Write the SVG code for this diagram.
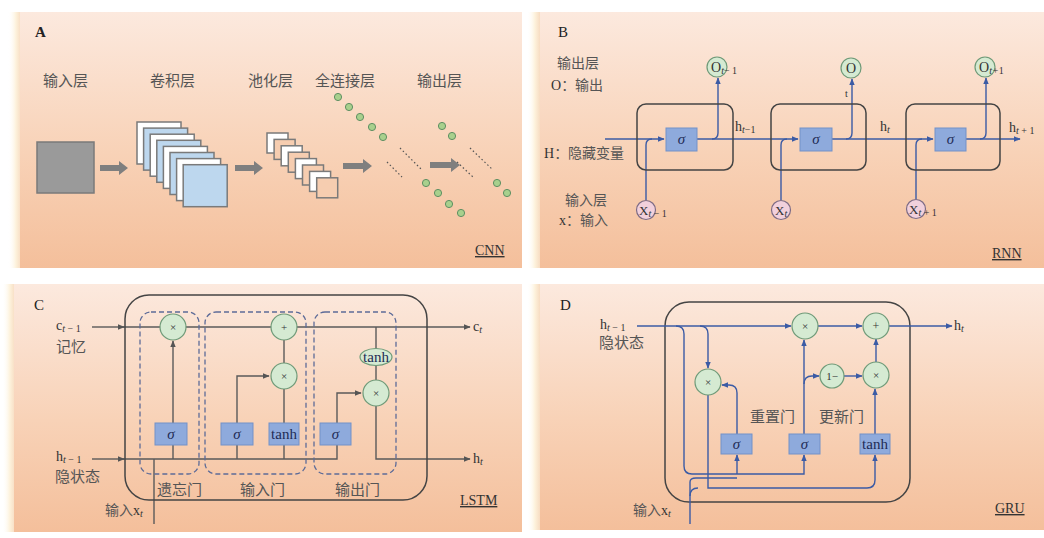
<svg xmlns="http://www.w3.org/2000/svg" width="1044" height="538" viewBox="0 0 1044 538">
  <defs>
    <linearGradient id="panelBg" x1="0" y1="0" x2="0" y2="1">
      <stop offset="0" stop-color="#fce9de"/>
      <stop offset="0.55" stop-color="#f8d2b7"/>
      <stop offset="1" stop-color="#f4bf9b"/>
    </linearGradient>
    <linearGradient id="edgeGlow" x1="0" y1="0" x2="1" y2="0">
      <stop offset="0" stop-color="#ffffff" stop-opacity="0"/>
      <stop offset="0.6" stop-color="#fdf2dc"/>
      <stop offset="1" stop-color="#f7dcc2"/>
    </linearGradient>
    <marker id="ab" viewBox="0 0 10 10" refX="9" refY="5" markerWidth="7" markerHeight="7" markerUnits="userSpaceOnUse" orient="auto">
      <path d="M0,1 L10,5 L0,9 z" fill="#3b5ba5"/>
    </marker>
    <marker id="ag" viewBox="0 0 10 10" refX="9" refY="5" markerWidth="7" markerHeight="7" markerUnits="userSpaceOnUse" orient="auto">
      <path d="M0,1 L10,5 L0,9 z" fill="#555"/>
    </marker>
    <style>
      .cjk { font-family: "Noto Sans CJK SC", sans-serif; fill: #555; }
      .lat { font-family: "Liberation Serif", "Noto Sans CJK SC", serif; fill: #333; }
      .tag { font-family: "Liberation Serif", serif; font-size: 15px; fill: #222; }
      .name { font-family: "Liberation Serif", serif; font-size: 14px; fill: #333; text-decoration: underline; }
      .it { font-style: italic; }
      .cell { fill: none; stroke: #444; stroke-width: 1.5; }
      .box { fill: #8eaadc; stroke: #7391c8; stroke-width: 1; }
      .op { fill: #d5ead2; stroke: #6f9a78; stroke-width: 1.2; }
      .inC { fill: #f1d0dc; stroke: #7d6b85; stroke-width: 1.2; }
      .dot { fill: #a8d08d; stroke: #5f8f62; stroke-width: 1; }
      .dots { stroke: #555; stroke-width: 1.2; stroke-dasharray: 1.5 2.5; }
      .bl { fill: none; stroke: #3b5ba5; stroke-width: 1.4; }
      .gl { fill: none; stroke: #5a5a5a; stroke-width: 1.4; }
      .gate { fill: none; stroke: #5d6b98; stroke-width: 1.3; stroke-dasharray: 5 3; }
      .fat { fill: #7f7f7f; }
      .frame { stroke: #7a7a7a; stroke-width: 1.5; }
      .sig { font-family: "Liberation Serif", serif; font-style: italic; font-size: 15px; fill: #1e2b55; }
      .tanh { font-family: "Liberation Serif", serif; font-size: 15px; fill: #1e2b55; }
    </style>
  </defs>

  <rect width="1044" height="538" fill="#ffffff"/>

  <!-- panel backgrounds -->
  <g id="panels">
    <rect x="8" y="12" width="13" height="256" fill="url(#edgeGlow)"/>
    <rect x="20" y="12" width="502" height="256" fill="url(#panelBg)"/>
    <rect x="527" y="12" width="13" height="256" fill="url(#edgeGlow)"/>
    <rect x="540" y="12" width="504" height="256" fill="url(#panelBg)"/>
    <rect x="2" y="284" width="13" height="248" fill="url(#edgeGlow)"/>
    <rect x="14" y="284" width="508" height="248" fill="url(#panelBg)"/>
    <rect x="527" y="284" width="13" height="246" fill="url(#edgeGlow)"/>
    <rect x="540" y="284" width="504" height="246" fill="url(#panelBg)"/>
  </g>

  <!-- ===== A: CNN ===== -->
  <g id="panel-a">
    <text class="tag" x="35" y="37" font-weight="bold" font-size="14">A</text>
    <text class="cjk" x="43" y="86" font-size="15">输入层</text>
    <text class="cjk" x="150" y="86" font-size="15">卷积层</text>
    <text class="cjk" x="248" y="86" font-size="15">池化层</text>
    <text class="cjk" x="315" y="86" font-size="15">全连接层</text>
    <text class="cjk" x="417" y="86" font-size="15">输出层</text>
    <text class="name" x="475" y="255">CNN</text>
  </g>

  <g id="cnn-input">
    <rect x="37" y="142" width="57" height="51" fill="#9a9a9a" stroke="#7a7a7a" stroke-width="1.5"/>
  </g>

  <g id="cnn-conv">
    <rect class="frame" x="137" y="122" width="44" height="42" fill="#ffffff"/>
    <rect class="frame" x="143.6" y="128.1" width="44" height="42" fill="#bdd7ee"/>
    <rect class="frame" x="150.2" y="134.2" width="44" height="42" fill="#ffffff"/>
    <rect class="frame" x="156.8" y="140.3" width="44" height="42" fill="#bdd7ee"/>
    <rect class="frame" x="163.4" y="146.4" width="44" height="42" fill="#ffffff"/>
    <rect class="frame" x="170" y="152.5" width="44" height="42" fill="#bdd7ee"/>
    <rect class="frame" x="176.6" y="158.6" width="44" height="42" fill="#ffffff"/>
    <rect class="frame" x="183.2" y="164.7" width="44" height="42" fill="#bdd7ee"/>
  </g>

  <g id="cnn-pool">
    <rect class="frame" x="267" y="133" width="21" height="20" fill="#ffffff"/>
    <rect class="frame" x="274.1" y="139.4" width="21" height="20" fill="#f6cdb0"/>
    <rect class="frame" x="281.2" y="145.8" width="21" height="20" fill="#ffffff"/>
    <rect class="frame" x="288.3" y="152.2" width="21" height="20" fill="#f6cdb0"/>
    <rect class="frame" x="295.4" y="158.6" width="21" height="20" fill="#ffffff"/>
    <rect class="frame" x="302.5" y="165" width="21" height="20" fill="#f6cdb0"/>
    <rect class="frame" x="309.6" y="171.4" width="21" height="20" fill="#ffffff"/>
    <rect class="frame" x="316.7" y="177.8" width="21" height="20" fill="#f6cdb0"/>
  </g>

  <g id="cnn-fc">
    <circle class="dot" cx="338" cy="97" r="3.6"/>
    <circle class="dot" cx="349" cy="107" r="3.6"/>
    <circle class="dot" cx="360" cy="117" r="3.6"/>
    <circle class="dot" cx="372" cy="127" r="3.6"/>
    <circle class="dot" cx="383" cy="137" r="3.6"/>
    <line class="dots" x1="387" y1="162" x2="402" y2="177"/>
    <line class="dots" x1="400" y1="148" x2="422" y2="170"/>
    <circle class="dot" cx="426" cy="183" r="3.6"/>
    <circle class="dot" cx="438" cy="193" r="3.6"/>
    <circle class="dot" cx="449" cy="204" r="3.6"/>
    <circle class="dot" cx="461" cy="213" r="3.6"/>
  </g>

  <g id="cnn-out">
    <circle class="dot" cx="442" cy="126" r="3.6"/>
    <circle class="dot" cx="452" cy="136" r="3.6"/>
    <line class="dots" x1="470" y1="148" x2="493" y2="170"/>
    <line class="dots" x1="457" y1="162" x2="473" y2="177"/>
    <circle class="dot" cx="497" cy="183" r="3.6"/>
    <circle class="dot" cx="507" cy="193" r="3.6"/>
  </g>

  <g id="cnn-arrows">
    <polygon class="fat" points="100,165 119,165 119,161 128,168 119,175 119,171 100,171"/>
    <polygon class="fat" points="235,165 254,165 254,161 263,168 254,175 254,171 235,171"/>
    <polygon class="fat" points="343,163 363,163 363,159 372,166 363,173 363,169 343,169"/>
    <polygon class="fat" points="430,162 451,162 451,158 460,165 451,172 451,168 430,168"/>
  </g>

  <!-- ===== B: RNN ===== -->
  <g id="panel-b">
    <text class="tag" x="558" y="37">B</text>
    <text class="cjk" x="557" y="68" font-size="14">输出层</text>
    <text class="lat" x="551" y="90" font-size="14">O<tspan class="cjk" font-size="14">：输出</tspan></text>
    <text class="lat" x="544" y="158" font-size="14">H<tspan class="cjk" font-size="14">：隐藏变量</tspan></text>
    <text class="cjk" x="565" y="205" font-size="14">输入层</text>
    <text class="lat" x="559" y="225" font-size="14">x<tspan class="cjk" font-size="14">：输入</tspan></text>
    <text class="name" x="992" y="258">RNN</text>
  </g>

  <g id="rnn-links">
    <path class="bl" d="M605,139 H664" marker-end="url(#ab)"/>
    <path class="bl" d="M697,139 H798" marker-end="url(#ab)"/>
    <path class="bl" d="M832,139 H933" marker-end="url(#ab)"/>
    <path class="bl" d="M966,139 H1020" marker-end="url(#ab)"/>
    <path class="bl" d="M646,200 V145 Q646,139 652,139"/>
    <path class="bl" d="M781,200 V145 Q781,139 787,139"/>
    <path class="bl" d="M916,199 V145 Q916,139 922,139"/>
    <path class="bl" d="M712,139 Q718,139 718,133 V78" marker-end="url(#ab)"/>
    <path class="bl" d="M846,139 Q852,139 852,133 V79" marker-end="url(#ab)"/>
    <path class="bl" d="M980,139 Q986,139 986,133 V78" marker-end="url(#ab)"/>
  </g>

  <g id="rnn-cell-1">
    <rect class="cell" x="637" y="104" width="96" height="66" rx="9"/>
    <rect class="box" x="666" y="128" width="31" height="23"/>
    <text class="sig" x="681.5" y="144" text-anchor="middle">σ</text>
    <circle class="op" cx="717" cy="67" r="10"/>
    <text class="lat" x="711" y="72" font-size="14">O<tspan class="it" font-size="10" dy="2">t</tspan><tspan font-size="10">− 1</tspan></text>
    <circle class="inC" cx="646" cy="210" r="9.5"/>
    <text class="lat" x="639" y="215" font-size="13">X<tspan class="it" font-size="10" dy="2">t</tspan><tspan font-size="10"> − 1</tspan></text>
  </g>

  <g id="rnn-cell-2">
    <rect class="cell" x="771" y="104" width="95" height="66" rx="9"/>
    <rect class="box" x="800" y="128" width="32" height="23"/>
    <text class="sig" x="816" y="144" text-anchor="middle">σ</text>
    <circle class="op" cx="851" cy="68" r="10"/>
    <text class="lat" x="851" y="73" font-size="14" text-anchor="middle">O</text>
    <text class="lat" x="845" y="97" font-size="10">t</text>
    <circle class="inC" cx="781" cy="210" r="9.5"/>
    <text class="lat" x="775" y="215" font-size="13">X<tspan class="it" font-size="10" dy="2">t</tspan></text>
  </g>

  <g id="rnn-cell-3">
    <rect class="cell" x="906" y="104" width="94" height="66" rx="9"/>
    <rect class="box" x="935" y="128" width="31" height="23"/>
    <text class="sig" x="950.5" y="144" text-anchor="middle">σ</text>
    <circle class="op" cx="985" cy="67" r="10"/>
    <text class="lat" x="979" y="72" font-size="14">O<tspan class="it" font-size="10" dy="2">t+</tspan><tspan font-size="10">1</tspan></text>
    <circle class="inC" cx="916" cy="209" r="9.5"/>
    <text class="lat" x="909" y="214" font-size="13">X<tspan class="it" font-size="10" dy="2">t</tspan><tspan font-size="10"> + 1</tspan></text>
  </g>

  <g id="rnn-labels">
    <text class="lat" x="735" y="131" font-size="14">h<tspan class="it" font-size="10" dy="2">t</tspan><tspan font-size="10">−1</tspan></text>
    <text class="lat" x="880" y="131" font-size="14">h<tspan class="it" font-size="10" dy="2">t</tspan></text>
    <text class="lat" x="1009" y="132" font-size="14">h<tspan class="it" font-size="10" dy="2">t</tspan><tspan font-size="10"> + 1</tspan></text>
  </g>

  <!-- ===== C: LSTM ===== -->
  <g id="panel-c">
    <text class="tag" x="34" y="310">C</text>
    <text class="lat" x="56" y="330" font-size="14">c<tspan class="it" font-size="10" dy="1.5">t</tspan><tspan font-size="10"> − 1</tspan></text>
    <text class="cjk" x="56" y="352" font-size="15">记忆</text>
    <text class="lat" x="56" y="461" font-size="14">h<tspan class="it" font-size="10" dy="1.5">t</tspan><tspan font-size="10"> − 1</tspan></text>
    <text class="cjk" x="55" y="482" font-size="15">隐状态</text>
    <text class="lat" x="473" y="331" font-size="14">c<tspan class="it" font-size="10" dy="2">t</tspan></text>
    <text class="lat" x="473" y="463" font-size="14">h<tspan class="it" font-size="10" dy="2">t</tspan></text>
    <text class="cjk" x="105" y="515" font-size="14">输入<tspan class="lat" font-size="14">x</tspan><tspan class="lat it" font-size="10" dy="2">t</tspan></text>
    <text class="name" x="460" y="505">LSTM</text>
  </g>

  <g id="lstm-links">
    <path class="gl" d="M92,327 H124" marker-end="url(#ag)"/>
    <path class="gl" d="M122,327 H470" marker-end="url(#ag)"/>
    <path class="gl" d="M92,459 H124" marker-end="url(#ag)"/>
    <path class="gl" d="M122,459 H337 V445"/>
    <path class="gl" d="M173,459 V445"/>
    <path class="gl" d="M173,423 V341" marker-end="url(#ag)"/>
    <path class="gl" d="M237,459 V445"/>
    <path class="gl" d="M237,423 V376 H269" marker-end="url(#ag)"/>
    <path class="gl" d="M284,459 V445"/>
    <path class="gl" d="M284,423 V389"/>
    <path class="gl" d="M284,363 V340"/>
    <path class="gl" d="M337,423 V393 H361" marker-end="url(#ag)"/>
    <path class="gl" d="M376,327 V349"/>
    <path class="gl" d="M376,365 V380"/>
    <path class="gl" d="M376,406 V459 H470" marker-end="url(#ag)"/>
    <path class="gl" d="M154,459 V524"/>
  </g>

  <g id="lstm-cell">
    <rect class="cell" x="125" y="295" width="302" height="205" rx="24" stroke="#555"/>
  </g>

  <g id="lstm-forget-gate">
    <rect class="gate" x="140" y="312" width="59" height="162" rx="11"/>
    <circle class="op" cx="173" cy="327" r="13"/>
    <text class="lat" x="173" y="331" font-size="11" text-anchor="middle">×</text>
    <rect class="box" x="155" y="423" width="32" height="22"/>
    <text class="sig" x="171" y="439" text-anchor="middle">σ</text>
    <text class="cjk" x="157" y="495" font-size="15">遗忘门</text>
  </g>

  <g id="lstm-input-gate">
    <rect class="gate" x="205" y="312" width="101" height="162" rx="11"/>
    <circle class="op" cx="284" cy="327" r="13"/>
    <text class="lat" x="284" y="331" font-size="11" text-anchor="middle">+</text>
    <circle class="op" cx="284" cy="376" r="13"/>
    <text class="lat" x="284" y="380" font-size="11" text-anchor="middle">×</text>
    <rect class="box" x="221" y="423" width="32" height="22"/>
    <text class="sig" x="237" y="439" text-anchor="middle">σ</text>
    <rect class="box" x="269" y="423" width="30" height="22"/>
    <text class="tanh" x="284" y="439" text-anchor="middle">tanh</text>
    <text class="cjk" x="240" y="495" font-size="15">输入门</text>
  </g>

  <g id="lstm-output-gate">
    <rect class="gate" x="314" y="312" width="82" height="162" rx="11"/>
    <ellipse class="op" cx="376" cy="357" rx="16" ry="8.5"/>
    <text class="tanh" x="376" y="362" text-anchor="middle" font-size="14">tanh</text>
    <circle class="op" cx="376" cy="393" r="13"/>
    <text class="lat" x="376" y="397" font-size="11" text-anchor="middle">×</text>
    <rect class="box" x="320" y="423" width="31" height="22"/>
    <text class="sig" x="335.5" y="439" text-anchor="middle">σ</text>
    <text class="cjk" x="335" y="495" font-size="15">输出门</text>
  </g>

  <!-- ===== D: GRU ===== -->
  <g id="panel-d">
    <text class="tag" x="560" y="310">D</text>
    <text class="lat" x="600" y="329" font-size="14">h<tspan class="it" font-size="10" dy="2">t</tspan><tspan font-size="10"> − 1</tspan></text>
    <text class="cjk" x="599" y="348" font-size="15">隐状态</text>
    <text class="lat" x="954" y="330" font-size="14">h<tspan class="it" font-size="10" dy="2">t</tspan></text>
    <text class="cjk" x="633" y="515" font-size="14">输入<tspan class="lat" font-size="14">x</tspan><tspan class="lat it" font-size="10" dy="2">t</tspan></text>
    <text class="cjk" x="750" y="422" font-size="15">重置门</text>
    <text class="cjk" x="819" y="422" font-size="15">更新门</text>
    <text class="name" x="995" y="513">GRU</text>
  </g>

  <g id="gru-cell">
    <rect class="cell" x="665" y="302" width="245" height="200" rx="24" stroke="#40405a"/>
  </g>

  <g id="gru-links">
    <path class="bl" d="M637,326 H791" marker-end="url(#ab)"/>
    <path class="bl" d="M818,326 H862" marker-end="url(#ab)"/>
    <path class="bl" d="M889,326 H952" marker-end="url(#ab)"/>
    <path class="bl" d="M676,326 Q684,326 684,334 V466 Q684,474 692,474 H804 V455" marker-end="url(#ab)"/>
    <path class="bl" d="M737,474 V455" marker-end="url(#ab)"/>
    <path class="bl" d="M700,326 Q708,326 708,334 V368" marker-end="url(#ab)"/>
    <path class="bl" d="M708,395 V488 H867 Q875,488 875,480 V455" marker-end="url(#ab)"/>
    <path class="bl" d="M737,434 V393 Q737,385 729,385 H722" marker-end="url(#ab)"/>
    <path class="bl" d="M804,434 V340" marker-end="url(#ab)"/>
    <path class="bl" d="M804,384 Q804,376 812,376 H819" marker-end="url(#ab)"/>
    <path class="bl" d="M844,376 H862" marker-end="url(#ab)"/>
    <path class="bl" d="M875,434 V389" marker-end="url(#ab)"/>
    <path class="bl" d="M876,362 V339" marker-end="url(#ab)"/>
    <path class="bl" d="M690,524 V496 Q690,488 698,488"/>
    <path class="bl" d="M690,496 V482 Q690,478 696,478 H737"/>
  </g>

  <g id="gru-reset-mul">
    <circle class="op" cx="708" cy="382" r="13"/>
    <text class="lat" x="708" y="386" font-size="11" text-anchor="middle">×</text>
  </g>
  <g id="gru-reset-gate">
    <rect class="box" x="721" y="434" width="31" height="20"/>
    <text class="sig" x="736.5" y="449" text-anchor="middle">σ</text>
  </g>
  <g id="gru-update-gate">
    <rect class="box" x="789" y="434" width="31" height="20"/>
    <text class="sig" x="804.5" y="449" text-anchor="middle">σ</text>
  </g>
  <g id="gru-candidate">
    <rect class="box" x="860" y="434" width="30" height="20"/>
    <text class="tanh" x="875" y="449" text-anchor="middle">tanh</text>
  </g>
  <g id="gru-keep-mul">
    <circle class="op" cx="805" cy="326" r="13"/>
    <text class="lat" x="805" y="330" font-size="11" text-anchor="middle">×</text>
  </g>
  <g id="gru-one-minus">
    <circle class="op" cx="832" cy="376" r="12"/>
    <text class="lat" x="832" y="380" font-size="11" text-anchor="middle">1−</text>
  </g>
  <g id="gru-new-mul">
    <circle class="op" cx="876" cy="375" r="13"/>
    <text class="lat" x="876" y="379" font-size="11" text-anchor="middle">×</text>
  </g>
  <g id="gru-sum">
    <circle class="op" cx="876" cy="326" r="13"/>
    <text class="lat" x="876" y="330" font-size="12" text-anchor="middle">+</text>
  </g>
</svg>
